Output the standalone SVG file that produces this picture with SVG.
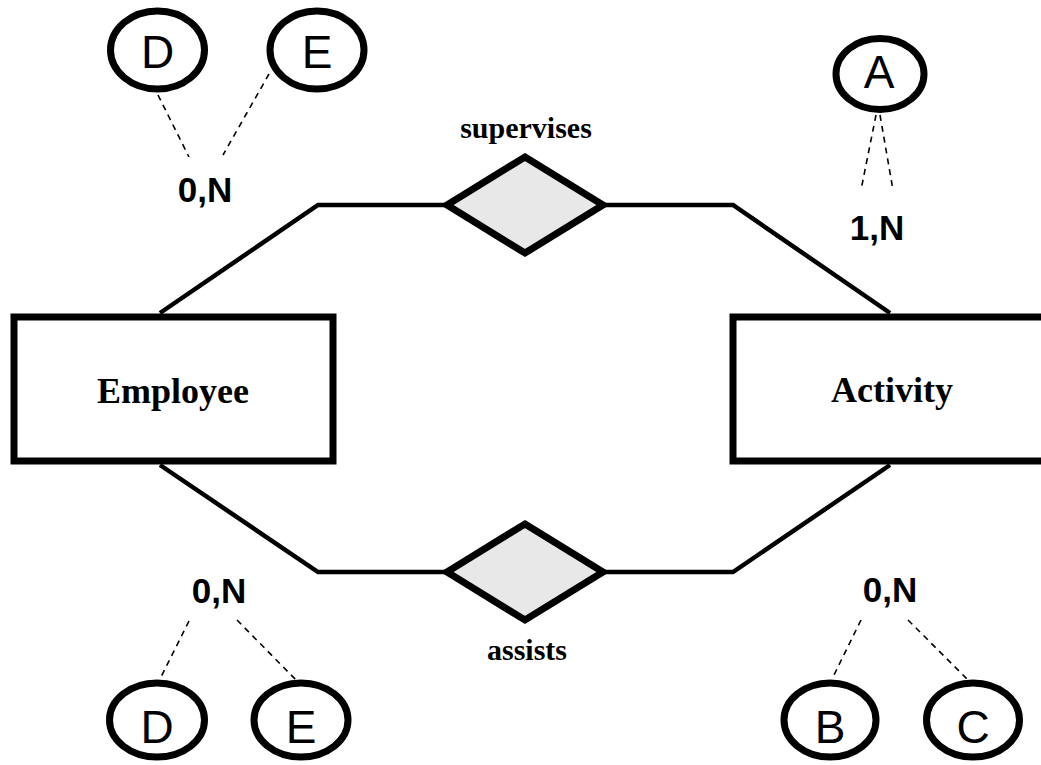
<svg xmlns="http://www.w3.org/2000/svg" width="1041" height="765" viewBox="0 0 1041 765">
<style>
.ent{fill:#fff;stroke:#000;stroke-width:7}
.rel{fill:#e8e8e8;stroke:#000;stroke-width:7;stroke-linejoin:miter}
.attr{fill:#fff;stroke:#000;stroke-width:7}
.ln{fill:none;stroke:#000;stroke-width:4.5}
.dash{fill:none;stroke:#000;stroke-width:1.6;stroke-dasharray:6,5}
.tn{font-family:"Liberation Serif","Times New Roman",serif;font-weight:bold;text-anchor:middle;fill:#000}
.ta{font-family:"Liberation Sans",Arial,sans-serif;font-size:46px;text-anchor:middle;fill:#000}
.tc{font-family:"Liberation Sans",Arial,sans-serif;font-weight:bold;font-size:35px;text-anchor:middle;fill:#000}
</style>
<rect width="1041" height="765" fill="#fff"/>
<g id="connectors">
<polyline class="ln" points="160,313 318,205 447,205"/>
<polyline class="ln" points="603,205 733,205 890,313"/>
<polyline class="ln" points="160,465 318,572 447,572"/>
<polyline class="ln" points="603,572 733,572 890,465"/>
<line class="dash" x1="158" y1="95" x2="189" y2="157"/>
<line class="dash" x1="269" y1="74" x2="223" y2="155"/>
<line class="dash" x1="876" y1="115" x2="861" y2="190"/>
<line class="dash" x1="880" y1="115" x2="893" y2="190"/>
<line class="dash" x1="189" y1="621" x2="161" y2="677"/>
<line class="dash" x1="237" y1="620" x2="297" y2="681"/>
<line class="dash" x1="861" y1="620" x2="833" y2="677"/>
<line class="dash" x1="908" y1="620" x2="969" y2="681"/>
</g>
<g id="employee">
<rect class="ent" x="14" y="317" width="319" height="144"/>
<text class="tn" x="173" y="403" font-size="36">Employee</text>
</g>
<g id="activity">
<rect class="ent" x="733" y="317" width="330" height="144"/>
<text class="tn" x="892" y="402" font-size="36">Activity</text>
</g>
<g id="supervises">
<polygon class="rel" points="525,157 603,205 525,253 447,205"/>
<text class="tn" x="526" y="138" font-size="30">supervises</text>
</g>
<g id="assists">
<polygon class="rel" points="525,524 603,572 525,620 447,572"/>
<text class="tn" x="527" y="660" font-size="30">assists</text>
</g>
<g id="card-emp-sup"><text class="tc" x="205" y="202">0,N</text></g>
<g id="card-act-sup"><text class="tc" x="877" y="240">1,N</text></g>
<g id="card-emp-ass"><text class="tc" x="219" y="603">0,N</text></g>
<g id="card-act-ass"><text class="tc" x="890" y="602">0,N</text></g>
<g id="attr-D-top">
<ellipse class="attr" cx="157.5" cy="50" rx="47" ry="39"/>
<text class="ta" x="157.5" y="68">D</text>
</g>
<g id="attr-E-top">
<ellipse class="attr" cx="317" cy="50" rx="47" ry="39"/>
<text class="ta" x="317" y="68">E</text>
</g>
<g id="attr-A">
<ellipse class="attr" cx="880" cy="74" rx="44" ry="35.5"/>
<text class="ta" x="879" y="88">A</text>
</g>
<g id="attr-D-bottom">
<ellipse class="attr" cx="157" cy="720" rx="47.5" ry="37"/>
<text class="ta" x="157" y="743">D</text>
</g>
<g id="attr-E-bottom">
<ellipse class="attr" cx="301" cy="720" rx="47" ry="37"/>
<text class="ta" x="301" y="743">E</text>
</g>
<g id="attr-B">
<ellipse class="attr" cx="830" cy="720" rx="46" ry="37"/>
<text class="ta" x="830" y="743">B</text>
</g>
<g id="attr-C">
<ellipse class="attr" cx="973" cy="720" rx="46.5" ry="37"/>
<text class="ta" x="973" y="743">C</text>
</g>
</svg>
